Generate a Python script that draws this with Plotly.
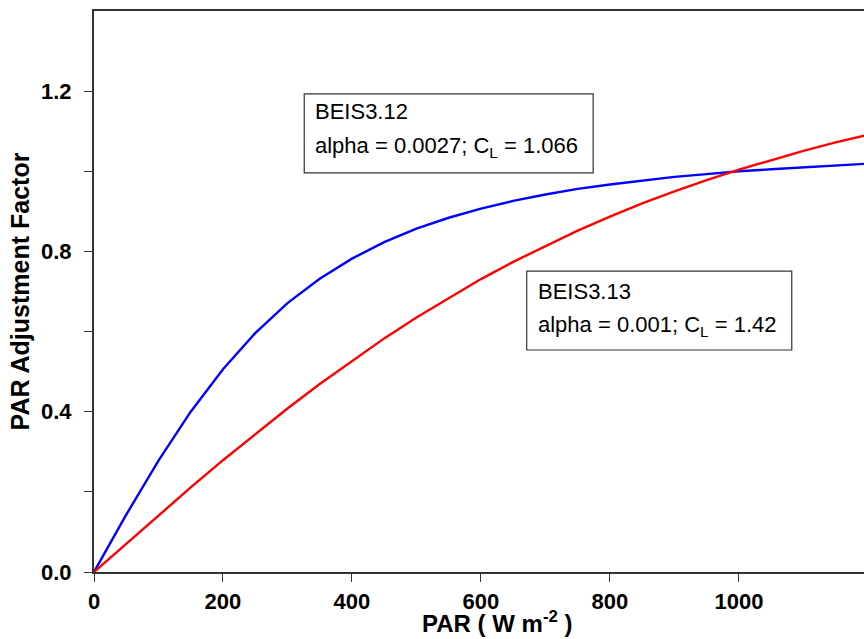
import plotly.graph_objects as go

par = [0, 50, 100, 150, 200, 250, 300, 350, 400, 450, 500, 550, 600, 650, 700,
       750, 800, 850, 900, 950, 1000, 1050, 1100, 1150, 1200]
beis312 = [0.0, 0.143, 0.278, 0.400, 0.506, 0.596, 0.671, 0.732, 0.782, 0.823,
           0.857, 0.884, 0.907, 0.926, 0.942, 0.956, 0.967, 0.977, 0.986, 0.993,
           1.000, 1.005, 1.010, 1.015, 1.019]
beis313 = [0.0, 0.071, 0.141, 0.211, 0.279, 0.344, 0.408, 0.469, 0.527, 0.583,
           0.635, 0.684, 0.731, 0.774, 0.814, 0.852, 0.887, 0.920, 0.950, 0.978,
           1.004, 1.028, 1.051, 1.072, 1.091]

x_ticks = [0, 200, 400, 600, 800, 1000]
y_ticks = [0.0, 0.4, 0.8, 1.2]
y_ticktext = ["0.0", "0.4", "0.8", "1.2"]
y_minor = [0.2, 0.6, 1.0]

font_family = "Liberation Sans, Arial, sans-serif"

fig = go.Figure()
fig.add_trace(go.Scatter(x=par, y=beis312, mode="lines",
                         line=dict(color="#0000FF", width=2.4), name="BEIS3.12"))
fig.add_trace(go.Scatter(x=par, y=beis313, mode="lines",
                         line=dict(color="#FF0000", width=2.4), name="BEIS3.13"))

# annotation boxes
fig.add_shape(type="rect", x0=326, x1=774, y0=0.996, y1=1.193,
              line=dict(color="#333333", width=1.2), fillcolor="white", layer="above")
fig.add_shape(type="rect", x0=671, x1=1082, y0=0.554, y1=0.751,
              line=dict(color="#333333", width=1.2), fillcolor="white", layer="above")

ann_font = dict(family=font_family, size=22, color="black")
fig.add_annotation(x=339, y=1.148, text="BEIS3.12", showarrow=False,
                   xanchor="left", yanchor="middle", font=ann_font)
fig.add_annotation(x=339, y=1.061, text="alpha = 0.0027; C<sub>L</sub> = 1.066",
                   showarrow=False, xanchor="left", yanchor="middle", font=ann_font)
fig.add_annotation(x=686, y=0.699, text="BEIS3.13", showarrow=False,
                   xanchor="left", yanchor="middle", font=ann_font)
fig.add_annotation(x=686, y=0.614, text="alpha = 0.001; C<sub>L</sub> = 1.42",
                   showarrow=False, xanchor="left", yanchor="middle", font=ann_font)

# x-axis title (centred on the original, wider plot)
fig.add_annotation(xref="paper", yref="paper", x=0.523, y=0, yanchor="bottom",
                   yshift=-67, showarrow=False, text="PAR ( W m<sup>-2</sup> )",
                   font=dict(family=font_family, size=24, weight="bold", color="black"))

fig.update_layout(
    width=864, height=639,
    margin=dict(l=94, r=0, t=11, b=67),
    plot_bgcolor="white", paper_bgcolor="white",
    showlegend=False,
    font=dict(family=font_family, color="black"),
    xaxis=dict(range=[0, 1194], tickvals=x_ticks, ticks="outside", ticklen=8,
               tickwidth=1.2, tickcolor="#333333",
               showline=True, linecolor="#333333", linewidth=2, mirror=True,
               showgrid=False, zeroline=False, ticklabelstandoff=1,
               tickfont=dict(size=22, weight="bold")),
    yaxis=dict(range=[0, 1.4], tickvals=y_ticks, ticktext=y_ticktext,
               ticks="outside", ticklen=8, tickwidth=1.2, tickcolor="#333333",
               minor=dict(tickvals=y_minor, ticks="outside", ticklen=8,
                          tickwidth=1.2, tickcolor="#333333", showgrid=False),
               showline=True, linecolor="#333333", linewidth=2,
               showgrid=False, zeroline=False, ticklabelstandoff=8,
               tickfont=dict(size=22, weight="bold"),
               title=dict(text="PAR Adjustment Factor", standoff=4,
                          font=dict(size=25, weight="bold"))),
)

fig.write_html("out.html", config={"displayModeBar": False},
               post_script="document.body.style.margin='0';"
                           "document.body.style.overflow='hidden';")
